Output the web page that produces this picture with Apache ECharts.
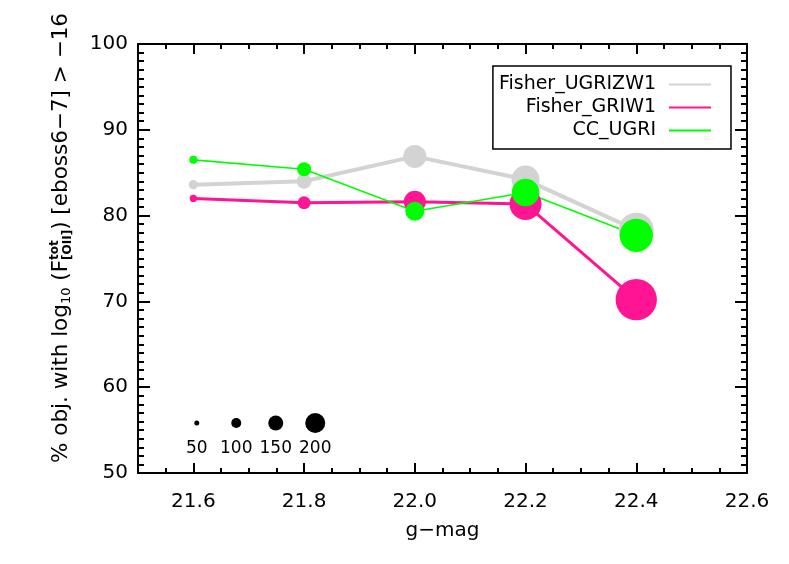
<!DOCTYPE html>
<html><head><meta charset="utf-8">
<script src="https://cdn.jsdelivr.net/npm/echarts@6/dist/echarts.min.js"></script>
<style>html,body{margin:0;padding:0;background:#fff}#c{width:789px;height:564px}</style>
</head><body><div id="c"></div>
<script>
// ---- data ----
const gmag = [21.6, 21.8, 22.0, 22.2, 22.4];
const seriesNames = ['Fisher_UGRIZW1', 'Fisher_GRIW1', 'CC_UGRI'];
const pctUGRIZW1 = [83.6, 84.0, 86.9, 84.2, 78.3];
const nUGRIZW1   = [93, 150, 230, 280, 350];
const pctGRIW1   = [82.0, 81.5, 81.6, 81.35, 70.2];
const nGRIW1     = [73, 130, 220, 320, 413];
const pctCCUGRI  = [86.5, 85.4, 80.5, 82.7, 77.7];
const nCCUGRI    = [80, 140, 190, 275, 333];
const keyCounts  = [50, 100, 150, 200];
const xMajorTicks = [21.6, 21.8, 22.0, 22.2, 22.4, 22.6];

const FF = '"DejaVu Sans"';
const colors = ['#d3d3d3', '#ff1493', '#00ff00'];
const widths = [4, 3, 1.6];

function measure(t, font) {
  const c = document.createElement('canvas').getContext('2d');
  c.font = font;
  return c.measureText(t).width;
}
const totW = measure('tot', 'bold 12px ' + FF);

const chart = echarts.init(document.getElementById('c'), null, {renderer: 'canvas'});

const axisLineStyle = {color: '#000', width: 2};
function xAxisDef(pos, major, labels) {
  const a = {
    gridIndex: 0, type: 'value', min: 21.5, max: 22.6, position: pos,
    axisLine: {show: major, onZero: false, lineStyle: axisLineStyle},
    axisTick: {show: true, inside: true, length: major ? 10 : 5, lineStyle: {color: '#000', width: 2}},
    axisLabel: {show: labels, color: '#000', fontFamily: FF, fontSize: 20, margin: 19,
      formatter: v => Number(v).toFixed(1)},
    splitLine: {show: false}
  };
  if (major) {
    a.axisTick.customValues = xMajorTicks;
    a.axisLabel.customValues = xMajorTicks;
  } else {
    a.interval = 0.05;
  }
  return a;
}
function yAxisDef(pos, labels) {
  return {
    gridIndex: 0, type: 'value', min: 50, max: 100, interval: 10, position: pos,
    axisLine: {show: true, onZero: false, lineStyle: axisLineStyle},
    axisTick: {show: true, inside: true, length: 12, lineStyle: {color: '#000', width: 2}},
    minorTick: {show: true, splitNumber: 10, length: 6, lineStyle: {color: '#000', width: 2}},
    axisLabel: {show: labels, color: '#000', fontFamily: FF, fontSize: 20, margin: 10, padding: [4, 0, 0, 0]},
    splitLine: {show: false}, minorSplitLine: {show: false}
  };
}

const xAxes = [xAxisDef('bottom', true, true), xAxisDef('bottom', false, false),
               xAxisDef('top', true, false), xAxisDef('top', false, false)];
xAxes[0].name = 'g\u2212mag';
xAxes[0].nameLocation = 'middle';
xAxes[0].nameGap = 48;
xAxes[0].nameTextStyle = {color: '#000', fontFamily: FF, fontSize: 20};
xAxes.push({
  gridIndex: 1, type: 'category', data: keyCounts.map(String),
  axisLine: {show: false}, axisTick: {show: false},
  axisLabel: {color: '#000', fontFamily: FF, fontSize: 17, margin: 7, interval: 0},
  splitLine: {show: false}
});

const yAxes = [yAxisDef('left', true), yAxisDef('right', false),
  {gridIndex: 1, type: 'value', min: -1, max: 1, show: false}];

const pcts = [pctUGRIZW1, pctGRIW1, pctCCUGRI];
const ns = [nUGRIZW1, nGRIW1, nCCUGRI];
const lineSeries = seriesNames.map((name, k) => ({
  name, type: 'line', xAxisIndex: 0, yAxisIndex: 0,
  data: gmag.map((g, i) => [g, pcts[k][i], ns[k][i]]),
  symbol: 'circle', showAllSymbol: true,
  symbolSize: v => v[2] / 10,
  lineStyle: {color: colors[k], width: widths[k]},
  itemStyle: {color: colors[k], opacity: 1},
  emphasis: {disabled: true}
}));

const option = {
  animation: false,
  backgroundColor: '#fff',
  grid: [
    {left: 138, right: 42, top: 44, bottom: 91},
    {left: 177, width: 158, top: 413, height: 20}
  ],
  xAxis: xAxes,
  yAxis: yAxes,
  legend: {
    data: seriesNames, orient: 'vertical', align: 'right',
    right: 58, top: 66, padding: [9, 19, 9, 6], itemGap: 4,
    itemWidth: 42, itemHeight: 4,
    borderColor: '#000', borderWidth: 1.5,
    textStyle: {color: '#000', fontFamily: FF, fontSize: 19, lineHeight: 18, padding: [0, 8, 0, 0]},
    itemStyle: {opacity: 0},
    selectedMode: false
  },
  graphic: [{
    type: 'text', x: 61, y: 238, rotation: Math.PI / 2, silent: true,
    style: {
      text: '% obj. with log{sub|10} (F{tot|tot}{oii|[OII]}) [eboss6\u22127] > \u221216',
      font: '21.5px ' + FF, fontFamily: FF, fontSize: 21.5, lineHeight: 30,
      fill: '#000', align: 'center', verticalAlign: 'middle',
      rich: {
        sub: {font: '13px ' + FF, fontFamily: FF, fontSize: 13, lineHeight: 13, verticalAlign: 'bottom', fill: '#000', padding: [0, 0, 3, 0]},
        tot: {font: 'bold 12px ' + FF, fontFamily: FF, fontSize: 12, fontWeight: 'bold', lineHeight: 12, verticalAlign: 'top', fill: '#000', padding: [3, -totW, 0, 0]},
        oii: {font: 'bold 12px ' + FF, fontFamily: FF, fontSize: 12, fontWeight: 'bold', lineHeight: 12, verticalAlign: 'bottom', fill: '#000', padding: [0, 0, 2, 0]}
      }
    }
  }],
  series: lineSeries.concat([{
    type: 'scatter', xAxisIndex: 4, yAxisIndex: 2,
    data: keyCounts.map(n => [String(n), 0, n]),
    symbol: 'circle', symbolSize: v => v[2] / 10,
    itemStyle: {color: '#000', opacity: 1}, emphasis: {disabled: true}, silent: true
  }])
};
chart.setOption(option);
</script>
</body></html>
